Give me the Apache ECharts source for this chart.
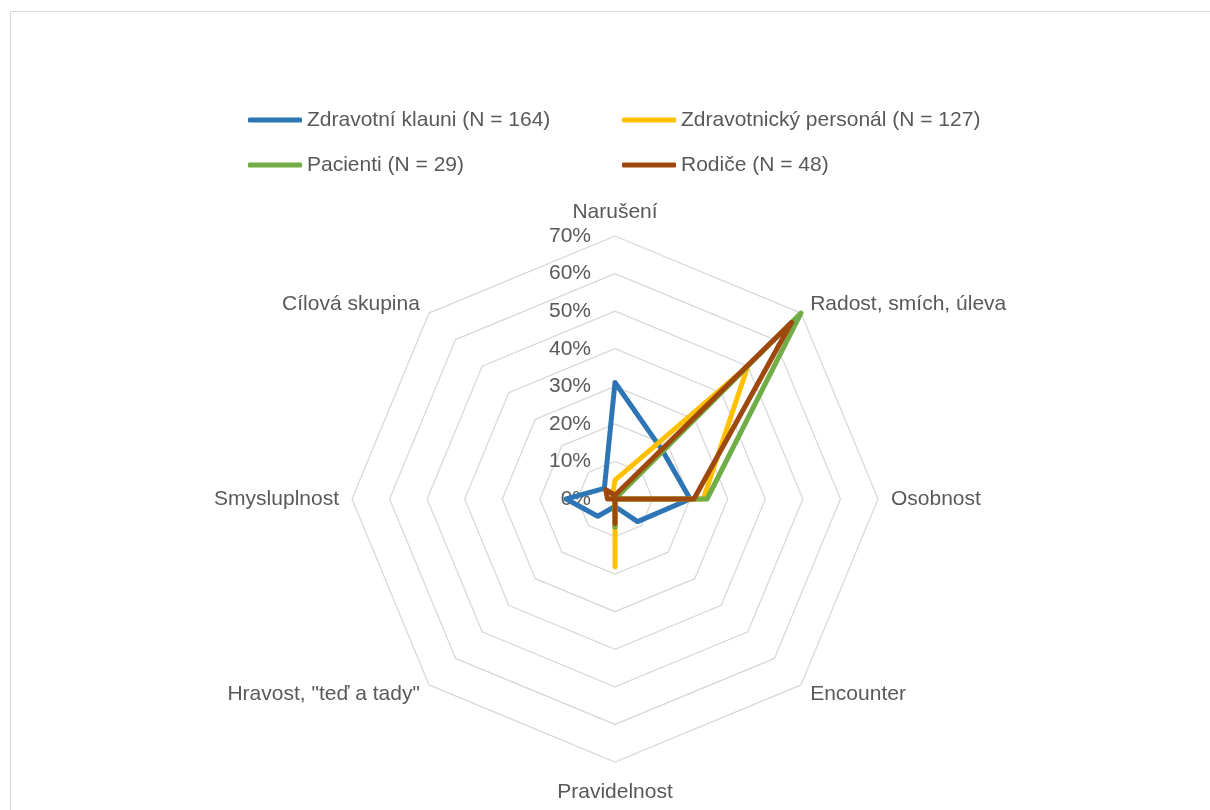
<!DOCTYPE html>
<html>
<head>
<meta charset="utf-8">
<script src="https://cdn.jsdelivr.net/npm/echarts@6/dist/echarts.min.js"></script>
<style>
  html, body { margin: 0; padding: 0; background: #fff; }
  #frame { position: absolute; left: 10px; top: 11px; width: 1210px; height: 810px; border: 1px solid #d9d9d9; box-sizing: border-box; }
  #chart { position: absolute; left: 0; top: 0; width: 1210px; height: 810px; }
</style>
</head>
<body>
<div id="frame"></div>
<div id="chart"></div>
<script>
// Categories in clockwise order starting from the top
const categories = ['Narušení', 'Radost, smích, úleva', 'Osobnost', 'Encounter', 'Pravidelnost', 'Hravost, "teď a tady"', 'Smysluplnost', 'Cílová skupina'];
const seriesNames = ['Zdravotní klauni (N = 164)', 'Zdravotnický personál (N = 127)', 'Pacienti (N = 29)', 'Rodiče (N = 48)'];
const klauni   = [0.31, 0.18, 0.20, 0.085, 0.02, 0.065, 0.13, 0.04];
const personal = [0.05, 0.50, 0.235, 0.0, 0.18, 0.0, 0.01, 0.01];
const pacienti = [0.0, 0.70, 0.245, 0.0, 0.075, 0.0, 0.0, 0.0];
const rodice   = [0.01, 0.665, 0.21, 0.0, 0.065, 0.0, 0.02, 0.035];
const tickLabels = ['0%', '10%', '20%', '30%', '40%', '50%', '60%', '70%'];
const axisMax = 0.7;

const colors = ['#2E75B6', '#FFC000', '#70AD47', '#9E480E'];
const allValues = [klauni, personal, pacienti, rodice];

// ECharts radar goes counter-clockwise; reorder so the chart reads clockwise
const order = [0, 7, 6, 5, 4, 3, 2, 1];
const textColor = '#595959';
const font = 'Liberation Sans, Arial, sans-serif';
const fs = 21;

const indicator = order.map((idx, i) => {
  const ind = { name: categories[idx], min: 0, max: axisMax };
  if (i === 0) {
    ind.axisLabel = {
      show: true,
      color: textColor,
      fontSize: fs,
      fontFamily: font,
      margin: 24,
      formatter: function (v) { return tickLabels[Math.round(v * 10)]; }
    };
  }
  if (idx === 4) ind.nameGap = 20;
  return ind;
});

const series = allValues.map((vals, s) => ({
  name: seriesNames[s],
  type: 'radar',
  symbol: 'none',
  z: 2 + s,
  lineStyle: { width: 5, color: colors[s], join: 'round', cap: 'round' },
  itemStyle: { color: colors[s] },
  data: [{ name: seriesNames[s], value: order.map(idx => vals[idx]) }]
}));

const legendPos = [
  { left: 248, top: 107 },
  { left: 622, top: 107 },
  { left: 248, top: 152 },
  { left: 622, top: 152 }
];
const legends = [0, 1, 2, 3].map((s, i) => ({
  data: [seriesNames[s]],
  left: legendPos[i].left,
  top: legendPos[i].top,
  icon: 'roundRect',
  itemWidth: 54,
  itemHeight: 5,
  padding: 0,
  selectedMode: false,
  textStyle: { color: textColor, fontSize: fs, fontFamily: font, lineHeight: 26 }
}));

const chart = echarts.init(document.getElementById('chart'), null, { renderer: 'canvas' });
chart.setOption({
  animation: false,
  color: colors,
  legend: legends,
  radar: {
    center: [615, 499],
    radius: 263,
    startAngle: 90,
    shape: 'polygon',
    splitNumber: 7,
    indicator: indicator,
    axisName: { color: textColor, fontSize: fs, fontFamily: font },
    nameGap: 13,
    axisLine: { show: false },
    axisTick: { show: false },
    axisLabel: { show: false },
    splitArea: { show: false },
    splitLine: { lineStyle: { color: '#d9d9d9', width: 1.3 } }
  },
  series: series
});
</script>
</body>
</html>
